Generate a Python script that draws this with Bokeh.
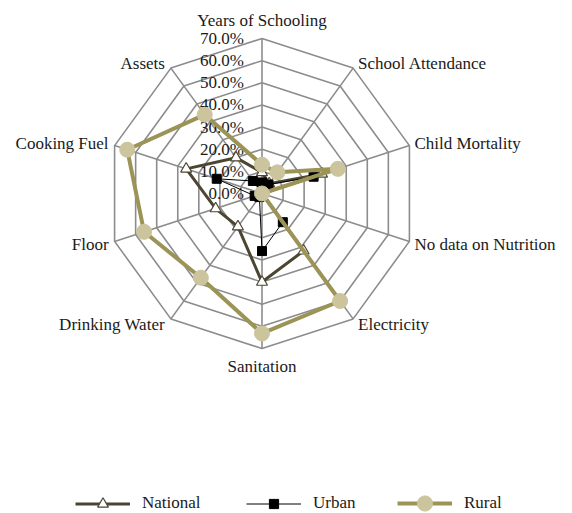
import numpy as np
from bokeh.plotting import figure
from bokeh.models import Range1d, Legend, LegendItem
from bokeh.core.properties import value
from bokeh.embed import file_html
from bokeh.resources import INLINE

# ---------------- data ----------------
categories = ["Years of Schooling", "School Attendance", "Child Mortality",
              "No data on Nutrition", "Electricity", "Sanitation",
              "Drinking Water", "Floor", "Cooking Fuel", "Assets"]
national = [9.5, 5.5, 28.5, 0.0, 32.0, 40.0, 18.5, 22.0, 36.0, 20.0]
urban = [5.0, 5.0, 24.5, 0.0, 16.0, 26.0, 2.0, 3.5, 21.5, 7.0]
rural = [13.0, 11.8, 36.0, 0.0, 60.0, 63.2, 47.0, 56.0, 64.0, 44.0]
tick_values = [0, 10, 20, 30, 40, 50, 60, 70]
tick_labels = ["0.0%", "10.0%", "20.0%", "30.0%", "40.0%", "50.0%", "60.0%", "70.0%"]
series_names = ["National", "Urban", "Rural"]

# ---------------- layout ----------------
W, H = 568, 512
R_MAX = 70.0
scale = 155.0 / R_MAX            # px per percent
cx_px, cy_px = 261.5, 193.0      # centre in figure pixels (from top-left)

FONT = "Liberation Serif"
FS = "17px"
TXT = "#1a1a1a"
GRID = "#8c8c8c"
C_NAT = "#4b4531"
C_RUR_LINE = "#9c9357"
C_RUR_FILL = "#cbc49c"

p = figure(width=W, height=H, output_backend="svg", toolbar_location=None,
           x_axis_location=None, y_axis_location=None, min_border=0,
           x_range=Range1d(-cx_px / scale, (W - cx_px) / scale),
           y_range=Range1d(-(H - cy_px) / scale, cy_px / scale))
p.grid.visible = False
p.outline_line_color = None
p.background_fill_color = "white"
p.border_fill_color = "white"

n = len(categories)
theta = np.arange(n) * 2 * np.pi / n
sx, sy = np.sin(theta), np.cos(theta)

def closed(vals):
    v = np.asarray(vals, dtype=float)
    xs = v * sx
    ys = v * sy
    return list(xs) + [xs[0]], list(ys) + [ys[0]], list(xs), list(ys)

# grid rings
for t in tick_values[1:]:
    gx, gy, _, _ = closed([t] * n)
    p.line(gx, gy, line_color=GRID, line_width=1.6)
# spokes
for i in range(n):
    p.line([0, R_MAX * sx[i]], [0, R_MAX * sy[i]], line_color=GRID, line_width=1.6)

# tick labels
p.text(x=[0] * len(tick_values), y=tick_values, text=tick_labels,
       text_font=value(FONT), text_font_size=FS, text_color=TXT,
       text_align="right", text_baseline="middle", x_offset=-18)

# category labels
for i, name in enumerate(categories):
    vx, vy = R_MAX * sx[i], R_MAX * sy[i]
    if abs(sx[i]) < 0.1:
        align = "center"
        xo = 0
        yo = -18 * sy[i]
    else:
        align = "left" if sx[i] > 0 else "right"
        xo = 5 if sx[i] > 0 else -6
        yo = -6 * sy[i] + (1 if sy[i] < 0 else 0)
    p.text(x=[vx], y=[vy], text=[name], text_font=value(FONT), text_font_size=FS,
           text_color=TXT, text_align=align, text_baseline="middle",
           x_offset=xo, y_offset=yo)

# series
nx, ny, nmx, nmy = closed(national)
l_nat = p.line(nx, ny, line_color=C_NAT, line_width=3)
m_nat = p.scatter(nmx, nmy, marker="triangle", size=11, fill_color="white",
                  line_color=C_NAT, line_width=1.2)

ux, uy, umx, umy = closed(urban)
l_urb = p.line(ux, uy, line_color="black", line_width=1)
m_urb = p.scatter(umx, umy, marker="square", size=9, fill_color="black",
                  line_color="black")

rx, ry, rmx, rmy = closed(rural)
l_rur = p.line(rx, ry, line_color=C_RUR_LINE, line_width=4)
m_rur = p.scatter(rmx, rmy, marker="circle", size=15, fill_color=C_RUR_FILL,
                  line_color=C_RUR_FILL)

# one legend per entry so each marker keeps its own size
legend_specs = [(series_names[0], [l_nat, m_nat], 75, 27),
                (series_names[1], [l_urb, m_urb], 246, 23),
                (series_names[2], [l_rur, m_rur], 397, 38)]
row_center_from_bottom = H - 503
for label, rends, x0, gh in legend_specs:
    lg = Legend(items=[LegendItem(label=label, renderers=rends)],
                orientation="horizontal",
                location=(x0, row_center_from_bottom - gh / 2),
                glyph_width=55, glyph_height=gh, label_height=gh,
                label_standoff=12, spacing=0, padding=0, margin=0,
                border_line_color=None, background_fill_alpha=0,
                label_text_font=FONT, label_text_font_size=FS,
                label_text_color=TXT)
    p.add_layout(lg)

open("out.html", "w").write(file_html(p, INLINE))
